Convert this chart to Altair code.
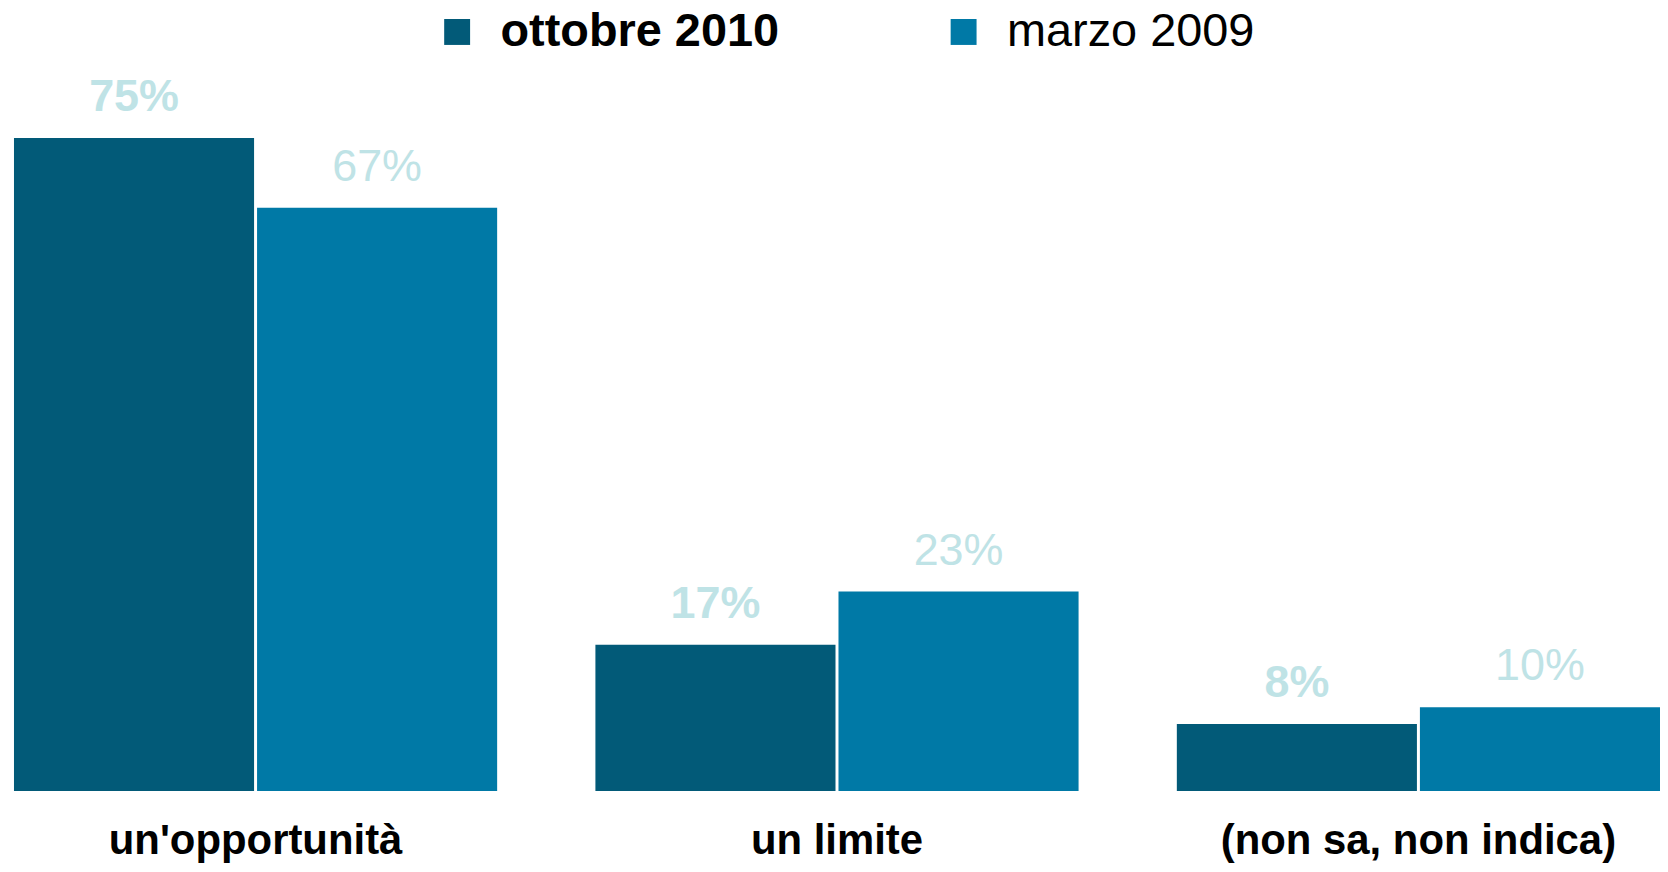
import altair as alt
import pandas as pd

categories = ["un'opportunità", "un limite", "(non sa, non indica)"]
series = ["ottobre 2010", "marzo 2009"]
values_2010 = [75, 16.8, 7.7]
values_2009 = [67, 22.9, 9.6]
labels_2010 = ["75%", "17%", "8%"]
labels_2009 = ["67%", "23%", "10%"]

dark = "#025a78"
light = "#0079a6"
label_color = "#bfe3e6"
FONT = "Liberation Sans"

rows = []
for c, v, l in zip(categories, values_2010, labels_2010):
    rows.append({"category": c, "series": series[0], "value": v, "label": l})
for c, v, l in zip(categories, values_2009, labels_2009):
    rows.append({"category": c, "series": series[1], "value": v, "label": l})
df = pd.DataFrame(rows)

base = alt.Chart(df).encode(
    x=alt.X(
        "category:N",
        sort=categories,
        scale=alt.Scale(paddingInner=0.169, paddingOuter=0),
        axis=alt.Axis(
            title=None,
            labelAngle=0,
            labelFontSize=42,
            labelFontWeight="bold",
            labelColor="black",
            labelFont=FONT,
            labelPadding=63,
            labelBaseline="alphabetic",
            labelLimit=1000,
            ticks=False,
            domain=False,
            grid=False,
        ),
    ),
    xOffset=alt.XOffset(
        "series:N", sort=series, scale=alt.Scale(paddingInner=0.0123, paddingOuter=0)
    ),
    y=alt.Y("value:Q", scale=alt.Scale(domain=[0, 89.8], nice=False, zero=True), axis=None),
)

bars = base.mark_bar().encode(
    color=alt.Color(
        "series:N",
        sort=series,
        scale=alt.Scale(domain=series, range=[dark, light]),
        legend=alt.Legend(
            title=None,
            orient="none",
            legendX=421,
            legendY=-1,
            direction="horizontal",
            symbolType="square",
            symbolSize=676,
            symbolStrokeWidth=0,
            symbolOpacity=1,
            labelFontSize=47,
            labelFont=FONT,
            labelColor="black",
            labelOffset=20,
            columnPadding=161,
            padding=0,
            labelLimit=1000,
            labelFontWeight=alt.ExprRef("datum.label == 'ottobre 2010' ? 'bold' : 'normal'"),
        ),
    )
)

t_bold = base.mark_text(
    baseline="alphabetic", dy=-27, fontSize=45, fontWeight="bold", font=FONT, color=label_color
).encode(text="label:N").transform_filter(alt.datum.series == series[0])

t_norm = base.mark_text(
    baseline="alphabetic", dy=-27, fontSize=45, fontWeight="normal", font=FONT, color=label_color
).encode(text="label:N").transform_filter(alt.datum.series == series[1])

chart = (
    alt.layer(bars, t_bold, t_norm)
    .properties(
        width=1651,
        height=784,
        autosize=alt.AutoSizeParams(type="none"),
        padding={"left": 6, "top": 0, "right": 0, "bottom": 72},
    )
    .configure_view(stroke=None)
)

chart.save("out.html", embed_options={"renderer": "svg", "actions": False})
